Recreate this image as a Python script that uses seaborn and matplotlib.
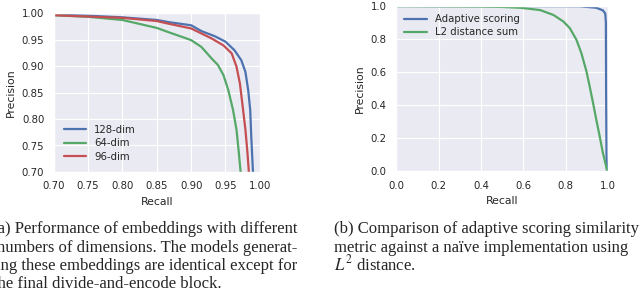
import numpy as np
import pandas as pd
import matplotlib
matplotlib.use("Agg")
import matplotlib.pyplot as plt
import seaborn as sns

sns.set_theme(style="darkgrid", context="paper")
plt.rcParams['font.family'] = ['DejaVu Sans']
plt.rcParams['mathtext.fontset'] = 'stix'

# === 데이터 (a): 임베딩 차원별 PR 곡선 ===
recall_128 = [0.70, 0.75, 0.80, 0.85, 0.867, 0.90, 0.915, 0.935, 0.95, 0.963, 0.973, 0.979, 0.983, 0.986, 0.9875, 0.990]
prec_128 = [0.997, 0.995, 0.992, 0.987, 0.983, 0.977, 0.966, 0.956, 0.946, 0.930, 0.911, 0.889, 0.855, 0.817, 0.767, 0.70]

recall_64 = [0.70, 0.75, 0.80, 0.85, 0.867, 0.90, 0.915, 0.930, 0.939, 0.947, 0.954, 0.961, 0.966, 0.969, 0.972]
prec_64 = [0.996, 0.993, 0.987, 0.972, 0.964, 0.949, 0.936, 0.914, 0.902, 0.883, 0.855, 0.817, 0.780, 0.742, 0.70]

recall_96 = [0.70, 0.80, 0.85, 0.867, 0.90, 0.930, 0.947, 0.959, 0.966, 0.971, 0.975, 0.979, 0.982, 0.984]
prec_96 = [0.996, 0.991, 0.985, 0.980, 0.971, 0.952, 0.939, 0.924, 0.899, 0.867, 0.824, 0.780, 0.736, 0.70]

# === 데이터 (b): 적응형 점수 vs L2 거리 합 ===
recall_adapt = [0.0, 0.5, 0.867, 0.945, 0.976, 0.987, 0.990, 0.991, 0.993, 0.995]
prec_adapt = [1.0, 1.0, 0.999, 0.99, 0.974, 0.955, 0.90, 0.50, 0.10, 0.0]

recall_l2 = [0.0, 0.4, 0.5, 0.587, 0.68, 0.743, 0.79, 0.82, 0.851, 0.874, 0.898, 0.913,
             0.929, 0.944, 0.96, 0.975, 0.988, 0.997]
prec_l2 = [1.0, 0.997, 0.995, 0.99, 0.976, 0.946, 0.906, 0.866, 0.796, 0.716, 0.606, 0.516,
           0.416, 0.316, 0.216, 0.116, 0.046, 0.0]

deep = sns.color_palette("deep")
c_blue, c_green, c_red = deep[0], deep[2], deep[3]

fig = plt.figure(figsize=(6.4, 2.91), dpi=100)
ax1 = fig.add_axes([0.084, 0.409, 0.322, 0.546])
ax2 = fig.add_axes([0.619, 0.412, 0.331, 0.567])

tick_fs = 7.3
lab_fs = 7.8

# (a)
for r, p, lab, col in [(recall_128, prec_128, "128-dim", c_blue),
                       (recall_64, prec_64, "64-dim", c_green),
                       (recall_96, prec_96, "96-dim", c_red)]:
    sns.lineplot(x=r, y=p, ax=ax1, label=lab, color=col, lw=1.6, sort=False, estimator=None)
ax1.set_xlim(0.70, 1.00)
ax1.set_ylim(0.70, 1.00)
ax1.set_xticks(np.arange(0.70, 1.001, 0.05))
ax1.set_yticks(np.arange(0.70, 1.001, 0.05))
ax1.xaxis.set_major_formatter(matplotlib.ticker.FormatStrFormatter('%.2f'))
ax1.yaxis.set_major_formatter(matplotlib.ticker.FormatStrFormatter('%.2f'))
ax1.set_xlabel("Recall", fontsize=lab_fs)
ax1.set_ylabel("Precision", fontsize=lab_fs)
ax1.tick_params(labelsize=tick_fs, pad=2)
ax1.legend(loc="lower left", frameon=False, fontsize=tick_fs, handlelength=2.2,
           borderaxespad=0.6, labelspacing=0.35)

# (b)
for r, p, lab, col in [(recall_adapt, prec_adapt, "Adaptive scoring", c_blue),
                       (recall_l2, prec_l2, "L2 distance sum", c_green)]:
    sns.lineplot(x=r, y=p, ax=ax2, label=lab, color=col, lw=1.6, sort=False, estimator=None)
ax2.set_xlim(0.0, 1.0)
ax2.set_ylim(0.0, 1.0)
ax2.set_xticks(np.arange(0.0, 1.01, 0.2))
ax2.set_yticks(np.arange(0.0, 1.01, 0.2))
ax2.xaxis.set_major_formatter(matplotlib.ticker.FormatStrFormatter('%.1f'))
ax2.yaxis.set_major_formatter(matplotlib.ticker.FormatStrFormatter('%.1f'))
ax2.set_xlabel("Recall", fontsize=lab_fs)
ax2.set_ylabel("Precision", fontsize=lab_fs)
ax2.tick_params(labelsize=tick_fs, pad=2)
ax2.legend(loc="upper left", frameon=False, fontsize=tick_fs, handlelength=2.2,
           borderaxespad=0.4, labelspacing=0.3)

# 캡션 (원본처럼 왼쪽 캡션은 가장자리에서 잘림)
cap_fs = 12
serif = ['Liberation Serif', 'DejaVu Serif']
cap_a = ["(a) Performance of embeddings with different",
         "numbers of dimensions. The models generat-",
         "ing these embeddings are identical except for"]
ys = [1 - 233 / 291, 1 - 251.5 / 291, 1 - 270 / 291, 1 - 288.5 / 291]
for line, y in zip(cap_a, ys):
    fig.text(297 / 640, y, line, ha="right", va="baseline", fontsize=cap_fs, family=serif)
fig.text(-7 / 640, ys[3], "the final divide-and-encode block.", ha="left", va="baseline",
         fontsize=cap_fs, family=serif)

cap_b = ["(b) Comparison of adaptive scoring similarity",
         "metric against a na\u00efve implementation using",
         "$L^2$ distance."]
for line, y in zip(cap_b, ys[:3]):
    fig.text(334 / 640, y, line, ha="left", va="baseline", fontsize=cap_fs, family=serif)

fig.savefig("out.png", dpi=100)
